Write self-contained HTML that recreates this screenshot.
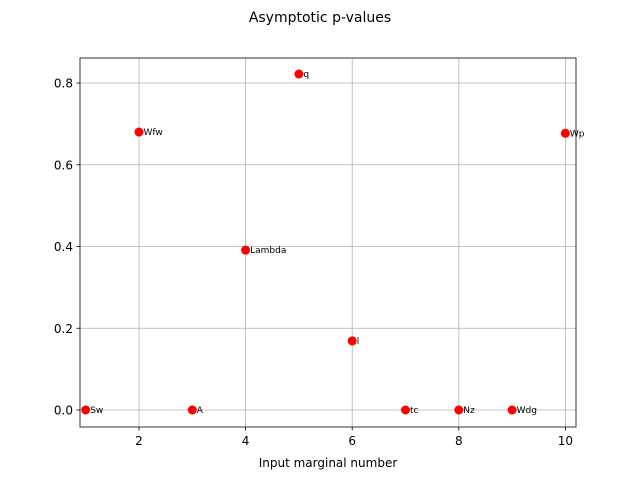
<!DOCTYPE html>
<html><head><meta charset="utf-8"><style>
body{margin:0;background:#fff;}
svg{display:block;font-family:"DejaVu Sans","Liberation Sans",sans-serif;}
</style></head><body>
<svg id="chart" width="640" height="480" viewBox="0 0 640 480">
<rect width="640" height="480" fill="#fff"/>
<text x="320" y="22" text-anchor="middle" font-size="14">Asymptotic p-values</text>
<g id="grid"></g>
<rect x="80" y="58" width="496" height="369" fill="none" stroke="#000" stroke-width="0.8"/>
<g id="ticks"></g>
<g id="points"></g>
<text x="328" y="467" text-anchor="middle" font-size="12">Input marginal number</text>
</svg>
<script>
const xs=[1,2,3,4,5,6,7,8,9,10];
const pvals=[0,0.68,0,0.391,0.822,0.169,0,0,0,0.677];
const names=["Sw","Wfw","A","Lambda","q","l","tc","Nz","Wdg","Wp"];
const xTicks=[2,4,6,8,10];
const yTicks=[0,0.2,0.4,0.6,0.8];
const yTickLabels=["0.0","0.2","0.4","0.6","0.8"];
const NS="http://www.w3.org/2000/svg";
function X(v){return 139+(v-2)*53.3;}
function Y(v){return 410-v*408.75;}
function mk(t,a,p){const e=document.createElementNS(NS,t);for(const k in a)e.setAttribute(k,a[k]);p.appendChild(e);return e;}
const grid=document.getElementById('grid'),ticks=document.getElementById('ticks'),pts=document.getElementById('points');
xTicks.forEach(v=>{
 const g=mk('line',{x1:X(v),x2:X(v),y1:58,y2:427,stroke:'#b0b0b0','stroke-width':0.8},grid);
 
 
 mk('line',{x1:X(v),x2:X(v),y1:427,y2:430.5,stroke:'#000','stroke-width':0.8},ticks);
 const t=mk('text',{x:X(v),y:445,'text-anchor':'middle','font-size':12},ticks);t.textContent=v;
 
 
});
yTicks.forEach((v,i)=>{
 const g=mk('line',{x1:80,x2:576,y1:Y(v),y2:Y(v),stroke:'#b0b0b0','stroke-width':0.8},grid);
 
 
 mk('line',{x1:76.5,x2:80,y1:Y(v),y2:Y(v),stroke:'#000','stroke-width':0.8},ticks);
 const t=mk('text',{x:73,y:Y(v)+4.5,'text-anchor':'end','font-size':12},ticks);t.textContent=yTickLabels[i];
 
 
});
xs.forEach((x,i)=>{
 const c=mk('circle',{cx:X(x),cy:Y(pvals[i]),r:4.5,fill:'#ff0000'},pts);
 
 
 const t=mk('text',{x:X(x)+4.5,y:Y(pvals[i])+3,'font-size':9},pts);t.textContent=names[i];
 
 
});
</script>
</body></html>
